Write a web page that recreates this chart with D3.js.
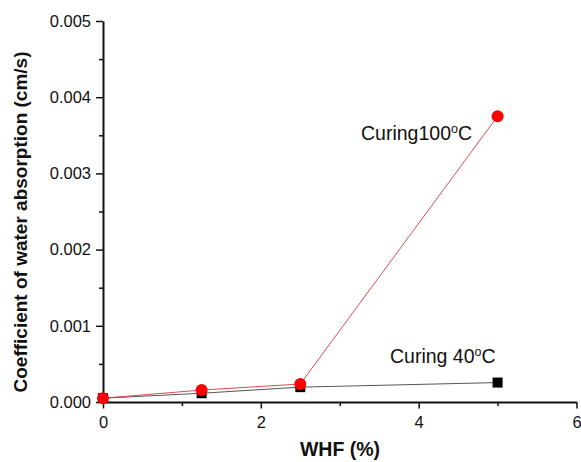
<!DOCTYPE html>
<html>
<head>
<meta charset="utf-8">
<script src="https://cdn.jsdelivr.net/npm/d3@7"></script>
<style>
  body { margin: 0; background: #fff; }
  text { font-family: Arial, "Liberation Sans", sans-serif; }
</style>
</head>
<body>
<div id="chart"></div>
<script>
// WHF content (%)
var whf = [0, 1.25, 2.5, 5];
// coefficient of water absorption (cm/s)
var curing40 = [0.00005, 0.000115, 0.000195, 0.000255];
var curing100 = [0.00005, 0.000157, 0.000236, 0.00375];
var xTicks = [0, 2, 4, 6];
var yTicks = [0, 0.001, 0.002, 0.003, 0.004, 0.005];

var width = 581, height = 462;
var margin = { top: 21, right: 4.5, bottom: 60, left: 103 };

var svg = d3.select("#chart").append("svg")
    .attr("width", width)
    .attr("height", height);

var x = d3.scaleLinear().domain([0, 6]).range([margin.left, width - margin.right]);
var y = d3.scaleLinear().domain([0, 0.005]).range([height - margin.bottom, margin.top]);

// minor ticks
svg.append("g")
   .attr("transform", "translate(0," + y(0) + ")")
   .call(d3.axisBottom(x).tickValues([1, 3, 5]).tickSize(4).tickFormat(""))
   .call(function(g) { g.select(".domain").remove(); });
svg.append("g")
   .attr("transform", "translate(" + x(0) + ",0)")
   .call(d3.axisLeft(y).tickValues([0.0005, 0.0015, 0.0025, 0.0035, 0.0045]).tickSize(4).tickFormat(""))
   .call(function(g) { g.select(".domain").remove(); });

// x axis
var xAxis = svg.append("g")
   .attr("transform", "translate(0," + y(0) + ")")
   .call(d3.axisBottom(x).tickValues(xTicks).tickSize(6.5).tickSizeOuter(0).tickPadding(8).tickFormat(d3.format("d")));
xAxis.selectAll("text").style("font-size", "16.5px").attr("fill", "#111");

// y axis
var yAxis = svg.append("g")
   .attr("transform", "translate(" + x(0) + ",0)")
   .call(d3.axisLeft(y).tickValues(yTicks).tickSize(7).tickSizeOuter(0).tickPadding(5).tickFormat(d3.format(".3f")));
yAxis.selectAll("text").style("font-size", "16.5px").attr("fill", "#111");

svg.selectAll(".domain").attr("stroke", "#111").attr("stroke-width", 2);
svg.selectAll(".tick line").attr("stroke", "#111").attr("stroke-width", 1.5);

// lines
var line = function(vals) {
  return d3.line().x(function(d, i) { return x(whf[i]); }).y(function(d) { return y(d); })(vals);
};
svg.append("path").attr("d", line(curing40))
   .attr("fill", "none").attr("stroke", "#555").attr("stroke-width", 1);
svg.append("path").attr("d", line(curing100))
   .attr("fill", "none").attr("stroke", "#d23a3a").attr("stroke-width", 0.9);

// markers
svg.selectAll(".sq").data(curing40).join("rect")
   .attr("class", "sq")
   .attr("x", function(d, i) { return x(whf[i]) - 5; })
   .attr("y", function(d) { return y(d) - 5; })
   .attr("width", 10).attr("height", 10)
   .attr("fill", "#000");
svg.selectAll(".dot").data(curing100).join("circle")
   .attr("class", "dot")
   .attr("cx", function(d, i) { return x(whf[i]); })
   .attr("cy", function(d) { return y(d); })
   .attr("r", 6)
   .attr("fill", "#f00");

// annotations
var lab1 = svg.append("text").attr("x", 361).attr("y", 140).style("font-size", "19.5px").attr("fill", "#111");
lab1.append("tspan").text("Curing100");
lab1.append("tspan").attr("dy", -7).style("font-size", "12.5px").text("o");
lab1.append("tspan").attr("dy", 7).text("C");

var lab2 = svg.append("text").attr("x", 390).attr("y", 363).style("font-size", "19.5px").attr("fill", "#111");
lab2.append("tspan").text("Curing 40");
lab2.append("tspan").attr("dy", -7).style("font-size", "12.5px").text("o");
lab2.append("tspan").attr("dy", 7).text("C");

// axis titles
svg.append("text")
   .attr("x", 340)
   .attr("y", 456)
   .attr("text-anchor", "middle")
   .style("font-size", "19.5px").style("font-weight", "bold")
   .attr("fill", "#111")
   .text("WHF (%)");

svg.append("text")
   .attr("transform", "rotate(-90)")
   .attr("x", -222)
   .attr("y", 27)
   .attr("text-anchor", "middle")
   .style("font-size", "19px").style("font-weight", "bold")
   .attr("fill", "#111")
   .text("Coefficient of water absorption (cm/s)");
</script>
</body>
</html>
